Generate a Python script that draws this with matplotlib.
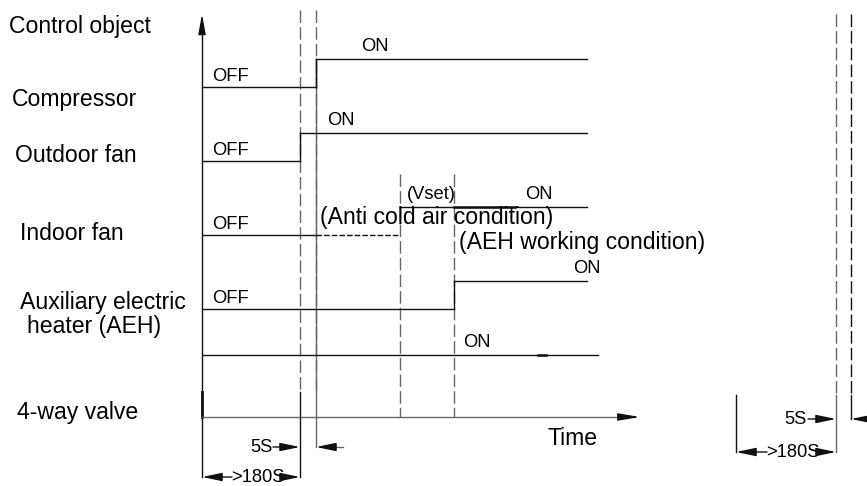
import matplotlib.pyplot as plt

plt.rcParams['font.family'] = ['Liberation Sans', 'DejaVu Sans']

# rows of the timing diagram (drawing units = pixels of the 867x486 canvas)
row_names = ['Compressor', 'Outdoor fan', 'Indoor fan', 'Auxiliary electric', '4-way valve']
row_name_y = [99, 155, 233, 302, 412]
row_name_x = [12, 15, 20, 20, 17]
off_level = [87, 161, 235, 309, 355]
on_level = [59, 133, 207, 281, 355]
switch_time = [316, 300, 400, 454, 202]
on_text_x = [361, 327, 525, 573, 463]
off_text = ['OFF', 'OFF', 'OFF', 'OFF', '']

t_start = 202      # origin of time axis
t_end = 587        # end of the ON traces
t_axis_end = 640
t_outdoor = 300    # outdoor fan starts
t_comp = 316       # compressor starts (5S later)
t_anti = 400       # anti cold air condition ends
t_aeh = 454        # AEH starts
y_axis_top = 14
y_time = 417

fig = plt.figure(figsize=(8.67, 4.86), dpi=100)
ax = fig.add_axes([0, 0, 1, 1])
ax.set_xlim(0, 867)
ax.set_ylim(486, 0)
ax.axis('off')

blk = '#111111'
gry = '#666666'
dash = (9, 3)
big = 16.6
small = 13.2

# axes
ax.plot([t_start, t_start], [477, y_axis_top + 15], color=blk, lw=1)
ax.annotate('', xy=(t_start, y_axis_top), xytext=(t_start, y_axis_top + 18),
            arrowprops=dict(arrowstyle='-|>,head_length=1.2,head_width=0.22', color=blk, lw=1,
                            shrinkA=0, shrinkB=0))
ax.plot([t_start, t_start], [392, y_time], color=blk, lw=2)
ax.plot([t_start, t_axis_end - 15], [y_time, y_time], color=gry, lw=1)
ax.annotate('', xy=(t_axis_end, y_time), xytext=(t_axis_end - 20, y_time),
            arrowprops=dict(arrowstyle='-|>,head_length=1.3,head_width=0.22', color=blk, lw=1,
                            shrinkA=0, shrinkB=0))
ax.text(547, 438, 'Time', fontsize=big, ha='left', va='center')
ax.text(9, 27, 'Control object', fontsize=big, ha='left', va='center')

# vertical time markers
ax.plot([t_outdoor, t_outdoor], [10, 392], color=gry, lw=1, dashes=dash)
ax.plot([t_outdoor, t_outdoor], [392, 477], color=blk, lw=1)
ax.plot([t_comp, t_comp], [10, 392], color=gry, lw=1, dashes=dash)
ax.plot([t_comp, t_comp], [on_level[0], 447], color=gry, lw=1)
ax.plot([t_anti, t_anti], [174, y_time], color=gry, lw=1, dashes=dash)
ax.plot([t_aeh, t_aeh], [174, y_time], color=gry, lw=1, dashes=dash)

# signal traces
for i in range(len(row_names)):
    ax.text(row_name_x[i], row_name_y[i], row_names[i], fontsize=big, ha='left', va='center')
    t = switch_time[i]
    if i == 2:
        ax.plot([t_start, t_comp], [off_level[i], off_level[i]], color=blk, lw=1)
        ax.plot([t_comp, t], [off_level[i], off_level[i]], color=blk, lw=1, dashes=(4, 1.5))
    else:
        ax.plot([t_start, t], [off_level[i], off_level[i]], color=blk, lw=1)
        ax.plot([t, t], [off_level[i], on_level[i]], color=blk, lw=1)
    end = t_end + 11 if i == 4 else t_end
    ax.plot([t, end], [on_level[i], on_level[i]], color=blk, lw=1)
    if off_text[i]:
        ax.text(212, off_level[i] - 2, off_text[i], fontsize=small, ha='left', va='bottom')
    ax.text(on_text_x[i], on_level[i] - 4, 'ON', fontsize=small, ha='left', va='bottom')

ax.text(27, 326, 'heater (AEH)', fontsize=big, ha='left', va='center')
ax.plot([t_aeh, 515], [on_level[2], on_level[2]], color=blk, lw=1.8)
ax.plot([538, 546], [on_level[4], on_level[4]], color=blk, lw=1.8)
ax.text(407, 194, '(Vset)', fontsize=small, ha='left', va='center')
ax.text(320, 217, '(Anti cold air condition)', fontsize=big, ha='left', va='center')
ax.text(459, 242, '(AEH working condition)', fontsize=big, ha='left', va='center')


def arrow(x0, x1, y):
    ax.annotate('', xy=(x1, y), xytext=(x0, y),
                arrowprops=dict(arrowstyle='-|>,head_length=1.2,head_width=0.25', color=blk, lw=1,
                                shrinkA=0, shrinkB=0))


# dimension marks, left
ax.text(250, 447, '5S', fontsize=small, ha='left', va='center')
arrow(273, t_outdoor, 447)
ax.plot([t_comp + 12, 343], [447, 447], color=gry, lw=1)
arrow(t_comp + 14, t_comp, 447)
arrow(232, t_start, 477)
ax.text(231, 477, '>180S', fontsize=small, ha='left', va='center')
arrow(287, t_outdoor, 477)

# dimension marks, right copy
r_left, r_a, r_b = 736, 836, 851
ax.plot([r_a, r_a], [14, 395], color=gry, lw=1, dashes=dash)
ax.plot([r_a, r_a], [395, 452], color=gry, lw=1)
ax.plot([r_b, r_b], [14, 395], color=blk, lw=1, dashes=dash)
ax.plot([r_b, r_b], [395, 419], color=blk, lw=1)
ax.plot([r_left, r_left], [395, 452], color=blk, lw=1)
ax.text(784, 419, '5S', fontsize=small, ha='left', va='center')
arrow(808, r_a, 419)
arrow(867, r_b, 419)
arrow(767, r_left, 452)
ax.text(766, 452, '>180S', fontsize=small, ha='left', va='center')
arrow(821, r_a, 452)

fig.savefig('out.png', dpi=100)
